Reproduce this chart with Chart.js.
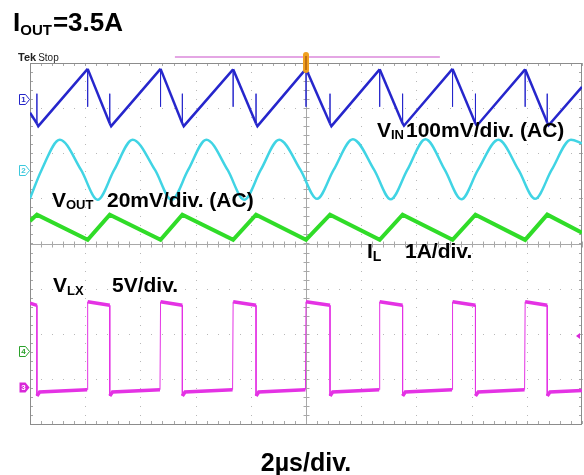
<!DOCTYPE html>
<html>
<head>
<meta charset="utf-8">
<script src="https://cdn.jsdelivr.net/npm/chart.js@4.4.1/dist/chart.umd.min.js"></script>
<style>
  html, body { margin: 0; padding: 0; background: #fff; }
</style>
</head>
<body>
<canvas id="scope" width="584" height="475"></canvas>
<script>
// time in µs (2µs/div, trigger at 0), level in screen divisions (center = 0)
const xTicks = [-10, -8, -6, -4, -2, 0, 2, 4, 6, 8, 10];
const yTicks = [-4, -3, -2, -1, 0, 1, 2, 3, 4];

// CH1 - V_IN (100mV/div AC)
const vinTime = [-10, -9.75, -9.75, -9.75, -9.70, -7.91, -7.91, -7.91, -7.11, -7.11, -7.11, -7.06,
  -5.27, -5.27, -5.27, -4.48, -4.48, -4.48, -4.43, -2.64, -2.64, -2.64, -1.81, -1.81, -1.81, -1.76,
  0.00, 0.00, 0.00, 0.87, 0.87, 0.87, 0.92, 2.67, 2.67, 2.67, 3.50, 3.50, 3.50, 3.55,
  5.31, 5.31, 5.31, 6.14, 6.14, 6.14, 6.19, 7.94, 7.94, 7.94, 8.74, 8.74, 8.74, 8.79, 10];
const vinLevel = [2.90, 2.66, 3.32, 2.66, 2.60, 3.87, 3.03, 3.87, 2.66, 3.32, 2.66, 2.60,
  3.87, 3.03, 3.87, 2.66, 3.32, 2.66, 2.60, 3.86, 3.03, 3.86, 2.66, 3.32, 2.66, 2.60,
  3.87, 3.03, 3.87, 2.66, 3.32, 2.66, 2.60, 3.86, 3.03, 3.86, 2.66, 3.32, 2.66, 2.61,
  3.87, 3.03, 3.87, 2.66, 3.32, 2.66, 2.61, 3.86, 3.03, 3.86, 2.68, 3.32, 2.68, 2.62, 3.47];

// CH2 - V_OUT (20mV/div AC)
const voutTime = [-10, -9.58, -8.92, -8.15, -7.55, -6.95, -6.28, -5.47, -4.87, -4.27, -3.61, -2.84,
  -2.24, -1.64, -0.97, -0.20, 0.40, 1.00, 1.70, 2.47, 3.07, 3.67, 4.33, 5.03, 5.63, 6.23, 6.97,
  7.70, 8.30, 8.90, 9.60, 10];
const voutLevel = [1.00, 1.63, 2.30, 1.63, 0.97, 1.63, 2.30, 1.63, 0.97, 1.63, 2.30, 1.63,
  0.97, 1.63, 2.30, 1.63, 0.99, 1.63, 2.31, 1.63, 0.98, 1.63, 2.31, 1.63, 0.98, 1.63, 2.30,
  1.63, 0.99, 1.63, 2.30, 2.22];

// CH4 - I_L (1A/div)
const ilTime = [-10, -9.75, -7.91, -7.11, -5.27, -4.48, -2.64, -1.81, 0.00, 0.87, 2.67, 3.50,
  5.31, 6.14, 7.94, 8.74, 10];
const ilLevel = [0.50, 0.64, 0.08, 0.64, 0.08, 0.64, 0.08, 0.64, 0.08, 0.64, 0.08, 0.64,
  0.08, 0.64, 0.08, 0.64, 0.24];

// CH3 - V_LX (5V/div)
const vlxTime = [-10, -9.75, -9.75, -9.65, -7.93, -7.91, -7.11, -7.11, -7.01, -5.29, -5.27,
  -4.48, -4.48, -4.38, -2.66, -2.64, -1.81, -1.81, -1.71, -0.02, 0.00, 0.87, 0.87, 0.97,
  2.65, 2.67, 3.50, 3.50, 3.60, 5.29, 5.31, 6.14, 6.14, 6.24, 7.92, 7.94, 8.74, 8.74, 8.84, 10];
const vlxLevel = [-1.32, -1.37, -3.38, -3.29, -3.24, -1.29, -1.37, -3.38, -3.29, -3.24, -1.29,
  -1.37, -3.38, -3.29, -3.24, -1.29, -1.37, -3.38, -3.29, -3.24, -1.29, -1.37, -3.38, -3.29,
  -3.24, -1.29, -1.37, -3.38, -3.29, -3.24, -1.29, -1.37, -3.38, -3.29, -3.24, -1.29, -1.37, -3.38, -3.29, -3.26];

// channel ground markers on the left edge
const markerNames = ["1", "2", "4", "3"];
const markerLevels = [3.21, 1.62, -2.39, -3.19];
const markerColors = ["#2424c8", "#3cc8dc", "#2aa02a", "#d828d8"];

const FONT = '"Liberation Sans", Arial, sans-serif';

function trace(name, times, levels, color, width, extra) {
  return Object.assign({
    label: name,
    data: times.map((t, i) => ({ x: t, y: levels[i] })),
    borderColor: color,
    borderWidth: width,
    pointRadius: 0,
    fill: false,
    tension: 0,
    segment: {
      // thin vertical edges / spikes like the scope trace
      borderWidth: (c) => (Math.abs(c.p1.parsed.x - c.p0.parsed.x) < 0.03 ? 1 : width),
    },
  }, extra || {});
}

const graticule = {
  id: "graticule",
  beforeDatasetsDraw(chart) {
    const { ctx, chartArea: a, scales: { x, y } } = chart;
    ctx.save();

    // dotted major lines
    ctx.fillStyle = "#b8b8b8";
    xTicks.forEach((gx) => {
      if (gx === 0 || gx === -10 || gx === 10) return;
      const px = Math.round(x.getPixelForValue(gx));
      for (let v = -4; v <= 4.001; v += 0.2) {
        ctx.fillRect(px, Math.round(y.getPixelForValue(v)), 1, 1);
      }
    });
    yTicks.forEach((gy) => {
      if (gy === 0 || gy === -4 || gy === 4) return;
      const py = Math.round(y.getPixelForValue(gy));
      for (let v = -10; v <= 10.001; v += 0.4) {
        ctx.fillRect(Math.round(x.getPixelForValue(v)), py, 1, 1);
      }
    });

    // center cross with minor ticks
    ctx.strokeStyle = "#a8a8a8";
    ctx.lineWidth = 1;
    const cx = Math.round(x.getPixelForValue(0)) + 0.5;
    const cy = Math.round(y.getPixelForValue(0)) + 0.5;
    ctx.beginPath();
    ctx.moveTo(cx, a.top);
    ctx.lineTo(cx, a.bottom);
    ctx.moveTo(a.left, cy);
    ctx.lineTo(a.right, cy);
    for (let v = -4; v <= 4.001; v += 0.2) {
      const py = Math.round(y.getPixelForValue(v)) + 0.5;
      ctx.moveTo(cx - 3, py);
      ctx.lineTo(cx + 3, py);
      ctx.moveTo(a.left, py);
      ctx.lineTo(a.left + 3, py);
      ctx.moveTo(a.right, py);
      ctx.lineTo(a.right - 3, py);
    }
    for (let v = -10; v <= 10.001; v += 0.4) {
      const px = Math.round(x.getPixelForValue(v)) + 0.5;
      ctx.moveTo(px, cy - 3);
      ctx.lineTo(px, cy + 3);
      ctx.moveTo(px, a.top);
      ctx.lineTo(px, a.top + 3);
      ctx.moveTo(px, a.bottom);
      ctx.lineTo(px, a.bottom - 3);
    }
    ctx.stroke();

    // border
    ctx.strokeStyle = "#8c8c8c";
    ctx.strokeRect(Math.round(a.left) + 0.5, Math.round(a.top) + 0.5,
      Math.round(a.right - a.left) - 1, Math.round(a.bottom - a.top));
    ctx.restore();
  },
};

function subText(ctx, x, base, main, sub, size, subSize, drop) {
  ctx.font = "bold " + size + "px " + FONT;
  ctx.fillText(main, x, base);
  let w = ctx.measureText(main).width;
  ctx.font = "bold " + subSize + "px " + FONT;
  ctx.fillText(sub, x + w, base + drop);
  return x + w + ctx.measureText(sub).width;
}

const overlay = {
  id: "overlay",
  afterDatasetsDraw(chart) {
    const { ctx, chartArea: a, scales: { x, y } } = chart;
    ctx.save();
    ctx.textBaseline = "alphabetic";
    ctx.fillStyle = "#000";

    // title
    let end = subText(ctx, 13, 31, "I", "OUT", 26, 15, 4);
    ctx.font = "bold 26px " + FONT;
    ctx.fillText("=3.5A", end + 1, 31);

    // channel captions
    subText(ctx, 377, 137, "V", "IN", 21, 13, 2);
    ctx.font = "bold 21px " + FONT;
    ctx.fillText("100mV/div. (AC)", 406, 137);

    subText(ctx, 52, 207, "V", "OUT", 21, 13, 2);
    ctx.font = "bold 21px " + FONT;
    ctx.fillText("20mV/div. (AC)", 107, 207);

    subText(ctx, 367, 258, "I", "L", 21, 14, 3);
    ctx.font = "bold 21px " + FONT;
    ctx.fillText("1A/div.", 405, 258);

    subText(ctx, 53, 292, "V", "LX", 21, 13, 3);
    ctx.font = "bold 21px " + FONT;
    ctx.fillText("5V/div.", 112, 292);

    ctx.textAlign = "center";
    ctx.font = "bold 25px " + FONT;
    ctx.fillText("2µs/div.", x.getPixelForValue(0), 471);
    ctx.textAlign = "left";

    // scope header
    ctx.fillStyle = "#222";
    ctx.font = "bold 11px " + FONT;
    ctx.fillText("Tek", 18, 61);
    let tw = ctx.measureText("Tek").width;
    ctx.font = "10px " + FONT;
    ctx.fillText("Stop", 18 + tw + 2, 61);

    // trigger position bar and marker
    ctx.strokeStyle = "#e4a6e4";
    ctx.lineWidth = 2;
    ctx.beginPath();
    ctx.moveTo(x.getPixelForValue(-4.75), 57);
    ctx.lineTo(x.getPixelForValue(4.85), 57);
    ctx.stroke();
    const tx = x.getPixelForValue(0);
    ctx.fillStyle = "#f0a020";
    ctx.beginPath();
    ctx.roundRect(tx - 3, 52, 6, 21, 3);
    ctx.fill();
    ctx.fillStyle = "#c07010";
    ctx.fillRect(tx - 1, 56, 2, 14);

    // trigger level arrow on the right
    const ty = y.getPixelForValue(-2.05);
    ctx.fillStyle = "#d828d8";
    ctx.beginPath();
    ctx.moveTo(a.right - 6, ty);
    ctx.lineTo(a.right - 2, ty - 3);
    ctx.lineTo(a.right - 2, ty + 3);
    ctx.closePath();
    ctx.fill();

    // channel markers
    ctx.font = "bold 8px " + FONT;
    ctx.textAlign = "center";
    ctx.textBaseline = "middle";
    markerNames.forEach((name, i) => {
      const py = Math.round(y.getPixelForValue(markerLevels[i])) + 0.5;
      const c = markerColors[i];
      const filled = name === "3";
      ctx.strokeStyle = c;
      ctx.fillStyle = c;
      ctx.lineWidth = 1;
      ctx.beginPath();
      ctx.moveTo(19.5, py - 5);
      ctx.lineTo(25.5, py - 5);
      ctx.lineTo(29.5, py);
      ctx.lineTo(25.5, py + 5);
      ctx.lineTo(19.5, py + 5);
      ctx.closePath();
      if (filled) ctx.fill(); else ctx.stroke();
      ctx.fillStyle = filled ? "#fff" : c;
      ctx.fillText(name, 23.5, py + 0.5);
    });
    ctx.restore();
  },
};

new Chart(document.getElementById("scope"), {
  type: "line",
  data: {
    datasets: [
      trace("VIN", vinTime, vinLevel, "#2626cc", 2.5),
      trace("VOUT", voutTime, voutLevel, "#40d4e4", 2.5, { cubicInterpolationMode: "monotone" }),
      trace("IL", ilTime, ilLevel, "#30dc28", 4),
      trace("VLX", vlxTime, vlxLevel, "#e432e4", 3.5),
    ],
  },
  options: {
    responsive: false,
    animation: false,
    events: [],
    layout: { padding: { left: 30, top: 63, right: 2, bottom: 51 } },
    plugins: { legend: { display: false }, tooltip: { enabled: false } },
    scales: {
      x: { type: "linear", min: -10, max: 10, display: false },
      y: { type: "linear", min: -4, max: 4, display: false },
    },
  },
  plugins: [graticule, overlay],
});
</script>
</body>
</html>
